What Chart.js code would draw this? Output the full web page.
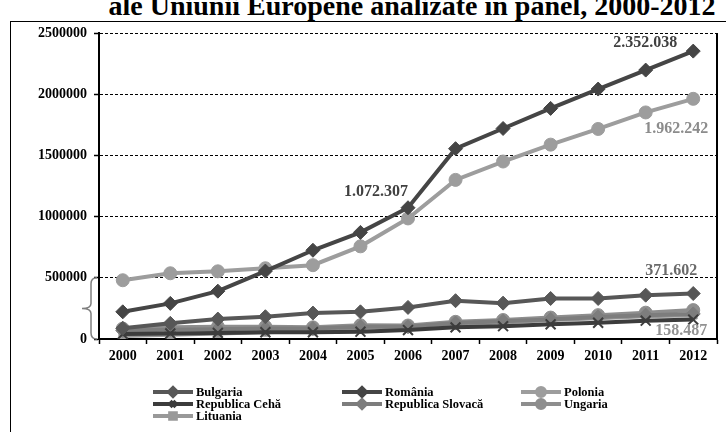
<!DOCTYPE html>
<html>
<head>
<meta charset="utf-8">
<script src="https://cdn.jsdelivr.net/npm/chart.js@4"></script>
<style>
  html, body { margin: 0; padding: 0; background: #fff; width: 726px; height: 432px; overflow: hidden; }
  #title {
    position: absolute; left: 0; top: -8px; width: 824px;
    text-align: center; white-space: nowrap;
    font: bold 28px/28px "Liberation Serif", "Times New Roman", serif; color: #000;
  }
  #frame { position: absolute; left: 10px; top: 21px; width: 800px; height: 500px; border: 1px solid #000; }
  #wrap { position: absolute; left: 0; top: 0; width: 726px; height: 432px; }
</style>
</head>
<body>
<div id="title">ale Uniunii Europene analizate în panel, 2000-2012</div>
<div id="frame"></div>
<div id="wrap"><canvas id="chart"></canvas></div>
<script>
// Categories and tick labels
const years = ['2000', '2001', '2002', '2003', '2004', '2005', '2006', '2007', '2008', '2009', '2010', '2011', '2012'];
const yTickLabels = ['0', '500000', '1000000', '1500000', '2000000', '2500000'];

// Series values
const bulgaria = [88000, 128000, 163000, 182000, 212000, 222000, 258000, 313000, 293000, 331000, 331000, 358000, 371602];
const romania = [222000, 291000, 391000, 555000, 725000, 871000, 1072307, 1555000, 1720000, 1884000, 2042000, 2197000, 2352038];
const polonia = [480000, 537000, 553000, 578000, 603000, 757000, 985000, 1300000, 1450000, 1588000, 1716000, 1851000, 1962242];
const cehia = [40000, 45000, 50000, 55000, 55000, 60000, 73000, 95000, 105000, 120000, 133000, 150000, 158487];
const slovacia = [70000, 75000, 80000, 85000, 85000, 100000, 100000, 130000, 145000, 160000, 180000, 195000, 205000];
const ungaria = [85000, 95000, 100000, 100000, 95000, 112000, 110000, 140000, 155000, 175000, 195000, 215000, 236000];
const lituania = [25000, 35000, 45000, 55000, 65000, 90000, 100000, 120000, 135000, 155000, 170000, 185000, 195000];

const serif = '"Liberation Serif", "Times New Roman", serif';

function series(label, data, color, style, radius, bw) {
  return {
    label: label, data: data,
    borderColor: color, backgroundColor: color,
    borderWidth: 4, tension: 0,
    pointStyle: style, pointRadius: radius, pointHoverRadius: radius,
    pointBackgroundColor: color, pointBorderColor: color, pointBorderWidth: bw || 1
  };
}

const datasets = [
  series('Bulgaria', bulgaria, '#575757', 'rectRot', 7),
  series('România', romania, '#454545', 'rectRot', 7),
  series('Polonia', polonia, '#9d9d9d', 'circle', 6.5),
  series('Republica Cehă', cehia, '#3c3c3c', 'crossRot', 7, 2),
  series('Republica Slovacă', slovacia, '#7d7d7d', 'rectRot', 7),
  series('Ungaria', ungaria, '#8e8e8e', 'circle', 6.5),
  series('Lituania', lituania, '#999999', 'rect', 5.5)
];

// value labels placed next to chosen points
const valueLabels = [
  { ds: 1, i: 12, dx: -48, dy: -8, color: '#404040' },
  { ds: 2, i: 12, dx: -17, dy: 30, color: '#8c8c8c' },
  { ds: 1, i: 6, dx: -32, dy: -16, color: '#404040' },
  { ds: 0, i: 12, dx: -22, dy: -23, color: '#6a6a6a' },
  { ds: 3, i: 12, dx: -12, dy: 11, color: '#929292' }
];

function dotted(n) {
  return String(n).replace(/\B(?=(\d{3})+(?!\d))/g, '.');
}

const extras = {
  id: 'extras',
  afterDraw(chart) {
    const ctx = chart.ctx;
    const area = chart.chartArea;
    const y = chart.scales.y;

    // plot area right border
    ctx.save();
    ctx.strokeStyle = '#000';
    ctx.lineWidth = 2;
    ctx.beginPath();
    ctx.moveTo(area.right, area.top);
    ctx.lineTo(area.right, area.bottom);
    ctx.stroke();

    // brace between 0 and 500000
    const top = y.getPixelForValue(500000);
    const bot = y.getPixelForValue(0);
    const mid = (top + bot) / 2;
    const xa = area.left - 2, xv = area.left - 8, xt = area.left - 17;
    ctx.strokeStyle = '#7f7f7f';
    ctx.lineWidth = 1.5;
    ctx.beginPath();
    ctx.moveTo(xa, top);
    ctx.quadraticCurveTo(xv, top, xv, top + 6);
    ctx.lineTo(xv, mid - 5);
    ctx.quadraticCurveTo(xv, mid, xt, mid);
    ctx.quadraticCurveTo(xv, mid, xv, mid + 5);
    ctx.lineTo(xv, bot - 6);
    ctx.quadraticCurveTo(xv, bot, xa, bot);
    ctx.stroke();

    // value labels
    ctx.font = 'bold 16px ' + serif;
    ctx.textAlign = 'center';
    ctx.textBaseline = 'middle';
    valueLabels.forEach(function(l) {
      const pt = chart.getDatasetMeta(l.ds).data[l.i];
      ctx.fillStyle = l.color;
      ctx.fillText(dotted(chart.data.datasets[l.ds].data[l.i]), pt.x + l.dx, pt.y + l.dy);
    });

    // legend, three columns
    const colX = [153, 342, 521];
    const rowY = [392, 404, 416];
    ctx.font = 'bold 12.5px ' + serif;
    ctx.textAlign = 'left';
    chart.data.datasets.forEach(function(ds, k) {
      const x = colX[k % 3], yy = rowY[Math.floor(k / 3)];
      ctx.strokeStyle = ds.borderColor;
      ctx.lineWidth = 4;
      ctx.beginPath();
      ctx.moveTo(x, yy);
      ctx.lineTo(x + 40, yy);
      ctx.stroke();
      ctx.fillStyle = ds.borderColor;
      Chart.helpers.drawPoint(ctx, {
        pointStyle: ds.pointStyle, radius: 4, rotation: 0, borderWidth: ds.pointBorderWidth
      }, x + 20, yy);
      ctx.fillStyle = '#000';
      ctx.fillText(ds.label, x + 43, yy + 1);
    });
    ctx.restore();
  }
};

new Chart(document.getElementById('chart'), {
  type: 'line',
  data: { labels: years, datasets: datasets },
  options: {
    responsive: true,
    maintainAspectRatio: false,
    animation: false,
    layout: { padding: { top: 33, right: 8, left: 0, bottom: 0 } },
    plugins: { legend: { display: false }, tooltip: { enabled: false } },
    scales: {
      x: {
        offset: true,
        afterFit: function(s) { s.height = 93; },
        grid: { display: true, drawOnChartArea: false, drawTicks: true, tickLength: 5, tickColor: '#000', tickWidth: 1.5, offset: true },
        border: { display: true, color: '#000', width: 2 },
        ticks: { color: '#000', padding: 4, font: { family: serif, size: 14, weight: 'bold' }, maxRotation: 0 }
      },
      y: {
        min: 0, max: 2500000,
        afterFit: function(s) { s.width = 99; },
        grid: { color: '#000', lineWidth: 1, drawTicks: true, tickLength: 5, tickColor: '#000', tickWidth: 1.5 },
        border: { display: true, color: '#000', width: 2, dash: [3, 2] },
        ticks: {
          stepSize: 500000, color: '#000', padding: 7,
          font: { family: serif, size: 14, weight: 'bold' },
          callback: function(v, i) { return yTickLabels[i]; }
        }
      }
    }
  },
  plugins: [extras]
});
</script>
</body>
</html>
